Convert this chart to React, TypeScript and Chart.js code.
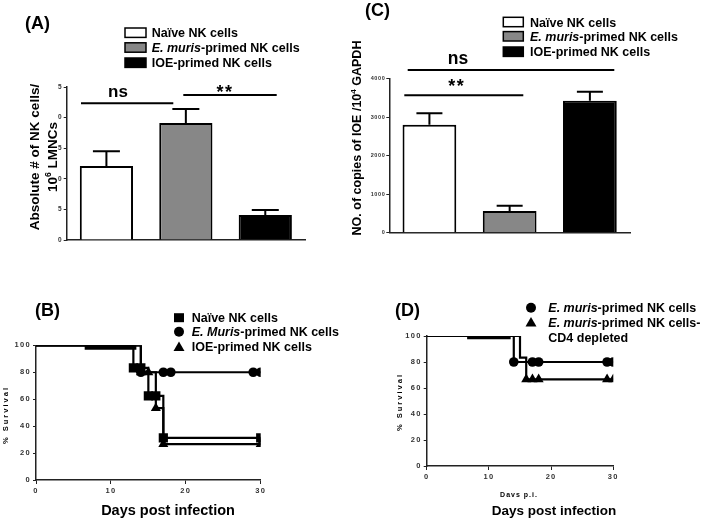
import React, { useEffect, useRef } from 'react';
import { Chart, registerables } from 'chart.js';

Chart.register(...registerables);

const FONT = '"Liberation Sans", Arial, Helvetica, sans-serif';

// ---------- Panel A / C : bar charts ----------
const cellGroups = ['Naïve NK cells', 'E. muris-primed NK cells', 'IOE-primed NK cells'];
const groupFills = ['#ffffff', '#878787', '#000000'];
const nkMeans = [12.1, 19.1, 4.1];
const nkErrors = [2.4, 2.3, 0.8];
const nkTicks = [0, 5, 10, 15, 20, 25];
const ioeMeans = [2805, 564, 3428];
const ioeErrors = [295, 137, 234];
const ioeTicks = [0, 1000, 2000, 3000, 4000];

// ---------- Panel B : survival ----------
const naiveDays = [0, 13, 14, 15, 16, 17, 30];
const naiveSurvival = [100, 83.3, 83.3, 62.5, 62.5, 31.3, 31.3];
const murisDaysB = [0, 14, 17, 18, 29, 30];
const murisSurvivalB = [100, 80, 80, 80, 80, 80];
const ioeDays = [0, 14, 15, 16, 17, 30];
const ioeSurvival = [100, 80, 80, 53.3, 26.7, 26.7];
const bandDaysB = [6.5, 13.4];
const bandLevelB = [98.7, 98.7];

// ---------- Panel D : survival ----------
const murisDaysD = [0, 14, 17, 18, 29, 30];
const murisSurvivalD = [100, 80, 80, 80, 80, 80];
const cd4Days = [0, 15, 16, 17, 18, 29, 30];
const cd4Survival = [100, 83.3, 66.7, 66.7, 66.7, 66.7, 66.7];
const cd4Marked = [false, false, true, true, true, true, true];
const bandDaysD = [6.5, 13.5];
const bandLevelD = [99.2, 99.2];

const dayTicks = [0, 10, 20, 30];
const survivalTicks = [0, 20, 40, 60, 80, 100];

type Seg = { t: string; it?: boolean; sup?: boolean };

const barLegend: Seg[][] = [
  [{ t: 'Naïve NK cells' }],
  [{ t: 'E. muris', it: true }, { t: '-primed NK cells' }],
  [{ t: 'IOE-primed NK cells' }],
];
const legendB: Seg[][] = [
  [{ t: 'Naïve NK cells' }],
  [{ t: 'E. Muris', it: true }, { t: '-primed NK cells' }],
  [{ t: 'IOE-primed NK cells' }],
];
const legendD: Seg[][] = [
  [{ t: 'E. muris', it: true }, { t: '-primed NK cells' }],
  [{ t: 'E. muris', it: true }, { t: '-primed NK cells-' }],
  [{ t: 'CD4 depleted' }],
];

function fnt(size: number, it = false) {
  return `${it ? 'italic ' : ''}bold ${size}px ${FONT}`;
}

function drawRich(ctx: any, segs: Seg[], x: number, y: number, size: number, align = 'left', spacing = 0) {
  ctx.save();
  ctx.letterSpacing = spacing + 'px';
  ctx.textBaseline = 'alphabetic';
  ctx.textAlign = 'left';
  ctx.fillStyle = '#000';
  const widths = segs.map((s) => {
    ctx.font = fnt(s.sup ? size * 0.65 : size, s.it);
    return ctx.measureText(s.t).width;
  });
  const total = widths.reduce((a, b) => a + b, 0);
  let cx = align === 'center' ? x - total / 2 : align === 'right' ? x - total : x;
  segs.forEach((s, i) => {
    ctx.font = fnt(s.sup ? size * 0.65 : size, s.it);
    ctx.fillText(s.t, cx, s.sup ? y - size * 0.42 : y);
    cx += widths[i];
  });
  ctx.restore();
}

function drawRotated(ctx: any, segs: Seg[], cx: number, cy: number, size: number, spacing = 0) {
  ctx.save();
  ctx.translate(cx, cy);
  ctx.rotate(-Math.PI / 2);
  drawRich(ctx, segs, 0, size * 0.36, size, 'center', spacing);
  ctx.restore();
}

function hLine(ctx: any, x1: number, x2: number, y: number, w = 2) {
  ctx.save();
  ctx.strokeStyle = '#000';
  ctx.lineWidth = w;
  ctx.beginPath();
  ctx.moveTo(x1, y);
  ctx.lineTo(x2, y);
  ctx.stroke();
  ctx.restore();
}

function marker(ctx: any, style: string, x: number, y: number, r: number) {
  ctx.save();
  ctx.fillStyle = '#000';
  ctx.beginPath();
  if (style === 'rect') ctx.rect(x - r, y - r * 0.9, 2 * r, 1.8 * r);
  else if (style === 'circle') ctx.arc(x, y, r, 0, Math.PI * 2);
  else {
    ctx.moveTo(x, y - r * 1.05);
    ctx.lineTo(x + r * 1.1, y + r * 0.85);
    ctx.lineTo(x - r * 1.1, y + r * 0.85);
    ctx.closePath();
  }
  ctx.fill();
  ctx.restore();
}

const fixY = (w: number) => (s: any) => {
  s.width = w;
  s.paddingTop = 0;
  s.paddingBottom = 0;
};
const fixX = (h: number) => (s: any) => {
  s.height = h;
  s.paddingLeft = 0;
  s.paddingRight = 0;
};
const setTicks = (vals: number[]) => (s: any) => {
  s.ticks = vals.map((v) => ({ value: v }));
};

const AXIS = '#222';

function barChart(o: any) {
  return {
    type: 'bar',
    data: {
      labels: cellGroups,
      datasets: [
        {
          label: 'mean',
          data: o.values,
          backgroundColor: groupFills,
          borderColor: '#000',
          borderWidth: 2,
          barPercentage: 0.67,
          categoryPercentage: 1,
        },
      ],
    },
    options: {
      animation: false,
      responsive: false,
      events: [],
      layout: { padding: o.padding },
      plugins: { legend: { display: false }, tooltip: { enabled: false } },
      scales: {
        x: {
          grid: { display: false },
          ticks: { display: false },
          border: { display: true, color: AXIS, width: 1.5 },
          afterFit: fixX(15),
        },
        y: {
          min: 0,
          max: o.max,
          afterBuildTicks: setTicks(o.ticks),
          ticks: {
            callback: o.tickLabel,
            font: { family: FONT, size: o.tickFont, weight: 'bold' },
            color: '#333',
            padding: o.tickPad,
          },
          grid: { drawOnChartArea: false, tickLength: 3, color: AXIS },
          border: { display: true, color: AXIS, width: 1.5 },
          afterFit: fixY(o.yWidth),
        },
      },
    },
    plugins: [
      {
        id: 'decor',
        beforeDraw(c: any) {
          c.ctx.letterSpacing = o.spacing + 'px';
        },
        afterDatasetsDraw(c: any) {
          const ctx = c.ctx;
          const meta = c.getDatasetMeta(0);
          const ys = c.scales.y;
          ctx.save();
          ctx.strokeStyle = '#000';
          ctx.lineWidth = 2;
          meta.data.forEach((bar: any, i: number) => {
            const top = ys.getPixelForValue(o.values[i] + o.errors[i]);
            ctx.beginPath();
            ctx.moveTo(bar.x, bar.y);
            ctx.lineTo(bar.x, top);
            ctx.moveTo(bar.x - o.cap / 2, top);
            ctx.lineTo(bar.x + o.cap / 2, top);
            ctx.stroke();
          });
          ctx.restore();
        },
        afterDraw(c: any) {
          c.ctx.letterSpacing = '0px';
          o.decorate(c.ctx);
        },
      },
    ],
  };
}

function kmSeries(days: number[], surv: number[], style: string, r: number, label: string, marked?: boolean[]) {
  return {
    label,
    data: days.map((d, i) => ({ x: d, y: surv[i] })),
    stepped: 'before',
    borderColor: '#000',
    backgroundColor: '#000',
    borderWidth: 2.2,
    fill: false,
    pointStyle: style,
    pointRadius: (c: any) => (c.dataIndex === 0 || (marked && !marked[c.dataIndex]) ? 0 : r),
    pointBorderWidth: 0,
    pointHoverRadius: 0,
  };
}

function bandSeries(days: number[], level: number[], w: number) {
  return {
    label: 'censored',
    data: days.map((d, i) => ({ x: d, y: level[i] })),
    borderColor: '#000',
    borderWidth: w,
    pointRadius: 0,
    fill: false,
  };
}

function kmChart(o: any) {
  const tickFont = { family: FONT, size: 7.5, weight: 'bold' };
  return {
    type: 'line',
    data: { datasets: o.datasets },
    options: {
      animation: false,
      responsive: false,
      events: [],
      layout: { padding: o.padding },
      plugins: { legend: { display: false }, tooltip: { enabled: false } },
      scales: {
        x: {
          type: 'linear',
          min: 0,
          max: 30,
          afterBuildTicks: setTicks(dayTicks),
          ticks: { font: tickFont, color: '#333', padding: 2, maxRotation: 0 },
          grid: { drawOnChartArea: false, tickLength: 4, color: AXIS },
          border: { display: true, color: AXIS, width: 1.5 },
          afterFit: fixX(20),
        },
        y: {
          min: 0,
          max: 100,
          afterBuildTicks: setTicks(survivalTicks),
          ticks: { font: tickFont, color: '#333', padding: 2 },
          grid: { drawOnChartArea: false, tickLength: 3, color: AXIS },
          border: { display: true, color: AXIS, width: 1.5 },
          afterFit: fixY(o.yWidth),
        },
      },
    },
    plugins: [
      {
        id: 'decor',
        beforeDraw(c: any) {
          c.ctx.letterSpacing = '1.3px';
        },
        afterDraw(c: any) {
          c.ctx.letterSpacing = '0px';
          o.decorate(c.ctx);
        },
      },
    ],
  };
}

function decorA(ctx: any) {
  drawRich(ctx, [{ t: '(A)' }], 25, 29, 18);
  const rows = [32.7, 47.5, 62.7];
  rows.forEach((y, i) => {
    ctx.save();
    ctx.fillStyle = groupFills[i];
    ctx.fillRect(125, y - 4.7, 21, 9.4);
    ctx.strokeStyle = '#000';
    ctx.lineWidth = 1.5;
    ctx.strokeRect(125, y - 4.7, 21, 9.4);
    ctx.restore();
    drawRich(ctx, barLegend[i], 151.7, y + 4.5, 12.5);
  });
  drawRotated(ctx, [{ t: 'Absolute # of NK cells/' }], 34, 157, 13.5);
  drawRotated(ctx, [{ t: '10' }, { t: '6', sup: true }, { t: ' LMNCs' }], 52, 157, 13.5);
  hLine(ctx, 81, 173.3, 103.3);
  drawRich(ctx, [{ t: 'ns' }], 118, 96.5, 17, 'center');
  hLine(ctx, 183.3, 276.7, 95);
  drawRich(ctx, [{ t: '**' }], 225, 98, 18, 'center', 1.5);
}

function decorC(ctx: any) {
  drawRich(ctx, [{ t: '(C)' }], 15, 16, 18);
  const rows = [22, 36.3, 51.7];
  rows.forEach((y, i) => {
    ctx.save();
    ctx.fillStyle = groupFills[i];
    ctx.fillRect(153.3, y - 4.7, 20, 9.4);
    ctx.strokeStyle = '#000';
    ctx.lineWidth = 1.5;
    ctx.strokeRect(153.3, y - 4.7, 20, 9.4);
    ctx.restore();
    drawRich(ctx, barLegend[i], 180, y + 4.5, 12.5);
  });
  drawRotated(ctx, [{ t: 'NO. of copies of IOE /10' }, { t: '4', sup: true }, { t: ' GAPDH' }], 6.5, 138, 12.5);
  hLine(ctx, 57.7, 264.3, 70);
  drawRich(ctx, [{ t: 'ns' }], 108, 64, 17.5, 'center');
  hLine(ctx, 54.3, 173.3, 95.3);
  drawRich(ctx, [{ t: '**' }], 106.7, 92, 18, 'center', 1.5);
}

function decorB(ctx: any) {
  drawRich(ctx, [{ t: '(B)' }], 35, 61, 18);
  const rows = [62.7, 76.7, 91.7];
  const styles = ['rect', 'circle', 'tri'];
  rows.forEach((y, i) => {
    marker(ctx, styles[i], 179, y, 5);
    drawRich(ctx, legendB[i], 191.7, y + 4.5, 12.5);
  });
  drawRotated(ctx, [{ t: '% Survival' }], 5, 160, 7.5, 2);
  drawRich(ctx, [{ t: 'Days post infection' }], 168, 260, 14.5, 'center');
}

function decorD(ctx: any) {
  drawRich(ctx, [{ t: '(D)' }], 45, 61, 18);
  const rows = [52.7, 67.3, 82.7];
  rows.forEach((y, i) => {
    if (i < 2) marker(ctx, i === 0 ? 'circle' : 'tri', 181, y, 5);
    drawRich(ctx, legendD[i], 198.3, y + 4.5, 12.5);
  });
  drawRotated(ctx, [{ t: '% Survival' }], 49.3, 147, 7.5, 2);
  drawRich(ctx, [{ t: 'Davs p.i.' }], 169, 241.5, 7, 'center', 1);
  drawRich(ctx, [{ t: 'Days post infection' }], 204, 260, 13.5, 'center');
}

const configA = () =>
  barChart({
    values: nkMeans,
    errors: nkErrors,
    ticks: nkTicks,
    max: 25,
    tickLabel: (v: number) => String(v).slice(-1),
    tickFont: 6.5,
    tickPad: 2,
    spacing: 0,
    yWidth: 30,
    padding: { left: 36.7, right: 45, top: 87, bottom: 0 },
    cap: 27,
    decorate: decorA,
  });

const configC = () =>
  barChart({
    values: ioeMeans,
    errors: ioeErrors,
    ticks: ioeTicks,
    max: 4000,
    tickLabel: (v: number) => String(v),
    tickFont: 5.5,
    tickPad: 1,
    spacing: 0.6,
    yWidth: 24,
    padding: { left: 15.3, right: 73, top: 78.7, bottom: 7.3 },
    cap: 26,
    decorate: decorC,
  });

const configB = () =>
  kmChart({
    datasets: [
      bandSeries(bandDaysB, bandLevelB, 5.5),
      kmSeries(naiveDays, naiveSurvival, 'rect', 6.5, 'Naïve NK cells'),
      kmSeries(murisDaysB, murisSurvivalB, 'circle', 4.8, 'E. Muris-primed NK cells'),
      kmSeries(ioeDays, ioeSurvival, 'triangle', 5.8, 'IOE-primed NK cells'),
    ],
    yWidth: 30,
    padding: { left: 6, right: 89.3, top: 90.3, bottom: 20 },
    decorate: decorB,
  });

const configD = () =>
  kmChart({
    datasets: [
      bandSeries(bandDaysD, bandLevelD, 4.5),
      kmSeries(murisDaysD, murisSurvivalD, 'circle', 4.8, 'E. muris-primed NK cells'),
      kmSeries(cd4Days, cd4Survival, 'triangle', 5.8, 'E. muris-primed NK cells-CD4 depleted', cd4Marked),
    ],
    yWidth: 30,
    padding: { left: 46.7, right: 89.7, top: 81, bottom: 34 },
    decorate: decorD,
  });

function Panel({ left, top, width, height, make }: any) {
  const ref = useRef<HTMLCanvasElement>(null);
  useEffect(() => {
    const chart = new Chart(ref.current as HTMLCanvasElement, make());
    return () => chart.destroy();
  }, []);
  return (
    <canvas
      ref={ref}
      width={width}
      height={height}
      style={{ position: 'absolute', left, top, width, height, display: 'block' }}
    />
  );
}

export default function App() {
  return (
    <div style={{ position: 'absolute', left: 0, top: 0, width: 703, height: 520, background: '#fff', overflow: 'hidden' }}>
      <Panel left={0} top={0} width={350} height={255} make={configA} />
      <Panel left={350} top={0} width={353} height={255} make={configC} />
      <Panel left={0} top={255} width={350} height={265} make={configB} />
      <Panel left={350} top={255} width={353} height={265} make={configD} />
    </div>
  );
}
